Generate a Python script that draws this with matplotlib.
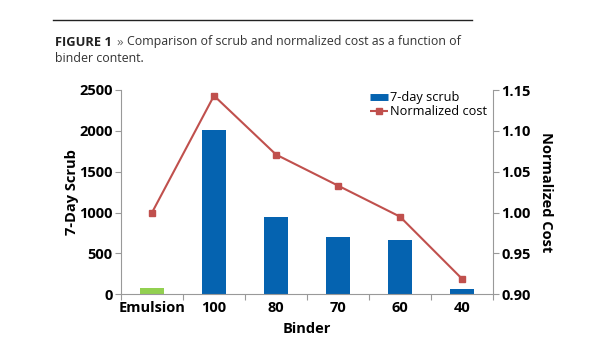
import matplotlib.pyplot as plt
from matplotlib.lines import Line2D

plt.rcParams['font.family'] = ['Open Sans', 'DejaVu Sans']

binders = ["Emulsion", "100", "80", "70", "60", "40"]
scrub = [75, 2015, 940, 705, 670, 60]
cost = [1.000, 1.143, 1.071, 1.033, 0.995, 0.919]
bar_colors = ["#92D050", "#0563B0", "#0563B0", "#0563B0", "#0563B0", "#0563B0"]

fig = plt.figure(figsize=(6.15, 3.5), dpi=100)
ax = fig.add_axes([121 / 615, 1 - 294.3 / 350, (493 - 121) / 615, (294.3 - 90) / 350])

x = list(range(len(binders)))
ax.bar(x, scrub, width=0.4, color=bar_colors, zorder=2)
ax.set_xlim(-0.5, len(binders) - 0.5)
ax.set_ylim(0, 2500)
ax.set_yticks([0, 500, 1000, 1500, 2000, 2500])
ax.set_xticks(x)
ax.set_xticklabels(binders)
ax.set_xticks([i - 0.5 for i in range(len(binders) + 1)], minor=True)
ax.tick_params(axis='x', which='major', length=0, pad=5)
ax.tick_params(axis='x', which='minor', length=4, color='#999999', width=0.8)
ax.tick_params(axis='y', length=4, color='#999999', width=0.8, pad=2)
for lab in ax.get_xticklabels() + ax.get_yticklabels():
    lab.set_fontweight('bold')
    lab.set_fontsize(10.5)
ax.spines['top'].set_visible(False)
ax.spines['right'].set_visible(False)
for s in ['left', 'bottom']:
    ax.spines[s].set_color('#999999')
    ax.spines[s].set_linewidth(0.8)
ax.set_ylabel("7-Day Scrub", fontweight='bold', fontsize=10.5, labelpad=0)
ax.set_xlabel("Binder", fontweight='bold', fontsize=10.5, labelpad=5)

ax2 = ax.twinx()
ax2.plot(x, cost, color="#C0504D", marker='s', markersize=5, linewidth=1.5, zorder=3)
ax2.set_ylim(0.90, 1.15)
ax2.set_yticks([0.90, 0.95, 1.00, 1.05, 1.10, 1.15])
ax2.set_yticklabels([f"{v:.2f}" for v in [0.90, 0.95, 1.00, 1.05, 1.10, 1.15]])
ax2.tick_params(axis='y', length=4, color='#999999', width=0.8, pad=2)
for lab in ax2.get_yticklabels():
    lab.set_fontweight('bold')
    lab.set_fontsize(10.5)
for s in ['top', 'left', 'bottom']:
    ax2.spines[s].set_visible(False)
ax2.spines['right'].set_color('#999999')
ax2.spines['right'].set_linewidth(0.8)
ax2.set_ylabel("Normalized Cost", fontweight='bold', fontsize=10.5, rotation=270, labelpad=16)

handles = [
    Line2D([0], [0], color="#0563B0", linewidth=5, solid_capstyle='butt'),
    Line2D([0], [0], color="#C0504D", marker='s', markersize=4, linewidth=1.5,
           solid_capstyle='butt'),
]
ax2.legend(handles, ["7-day scrub", "Normalized cost"], loc='upper left',
           bbox_to_anchor=(0.655, 1.02), frameon=False, fontsize=9.2,
           handlelength=1.4, handletextpad=0.15, labelspacing=0.1, borderaxespad=0)

# header rule and caption
fig.add_artist(Line2D([53 / 615, 472 / 615], [1 - 20 / 350, 1 - 20 / 350],
                      color='#222222', linewidth=1))
fig.text(55 / 615, 1 - 42 / 350, "FIGURE 1", fontweight='bold', fontsize=9.3,
         color='#222222', va='center')
fig.text(116 / 615, 1 - 42 / 350, "»", fontsize=9.5, color='#666666', va='center')
fig.text(127 / 615, 1 - 42 / 350, "Comparison of scrub and normalized cost as a function of",
         fontsize=8.9, color='#333333', va='center')
fig.text(55 / 615, 1 - 58 / 350, "binder content.", fontsize=8.9, color='#333333', va='center')

fig.savefig("out.png", dpi=100)
